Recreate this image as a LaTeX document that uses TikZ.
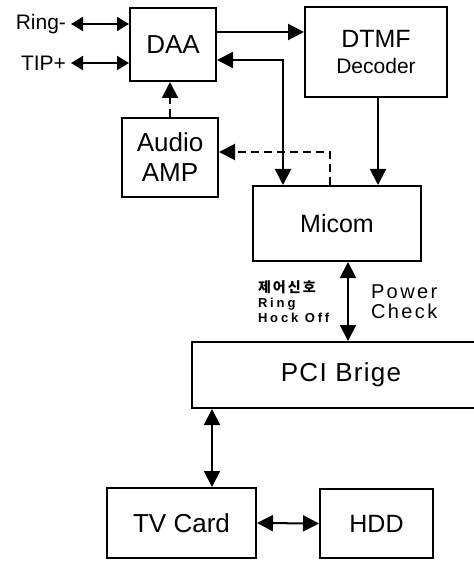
\documentclass[tikz,border=0pt]{standalone}
\usepackage{fontspec}
\setmainfont{Liberation Sans}
\newfontfamily\spacedfont[LetterSpace=12]{Liberation Sans}
\newfontfamily\pcifont[LetterSpace=5]{Liberation Sans}
\newfontfamily\tinyfont[LetterSpace=22]{Liberation Sans}
\newfontfamily\korfont[LetterSpace=15]{Noto Sans CJK KR}
\usetikzlibrary{arrows.meta}

\begin{document}
\begin{tikzpicture}[x=0.5pt, y=-0.5pt, line width=1pt, >={Triangle[length=8pt, width=8pt]},
    blk/.style={draw, inner sep=0pt, align=center}]
    \useasboundingbox (0,0) rectangle (474,561);
    \node (daa) at (173,44.5) [blk, minimum width=43pt, minimum height=36.5pt, font=\fontsize{13}{15}\selectfont] {DAA};
    \node (dtmf) at (376,52) [blk, minimum width=71pt, minimum height=45pt] {\fontsize{12.5}{14}\selectfont DTMF\\[1pt]\fontsize{10.5}{12}\selectfont Decoder};
    \node (audio) at (170,157.5) [blk, minimum width=48pt, minimum height=39.5pt, font=\fontsize{13}{15}\selectfont] {Audio\\AMP};
    \node (micom) at (337,223.5) [blk, minimum width=84pt, minimum height=37.5pt, font=\fontsize{12.5}{15}\selectfont] {Micom};
    \node (pci) at (341,375) [blk, minimum width=149pt, minimum height=33pt, font=\fontsize{13}{15}\pcifont] {PCI Brige};
    \node (tv) at (181.5,523) [blk, minimum width=74.5pt, minimum height=35pt, font=\fontsize{13}{15}\selectfont] {TV Card};
    \node (hdd) at (376.5,523.5) [blk, minimum width=56.5pt, minimum height=34.5pt, font=\fontsize{12.5}{15}\selectfont] {HDD};
    \node (ring) at (71,24) [anchor=east, inner sep=2pt, font=\fontsize{10.5}{12}\selectfont] {Ring-};
    \node (tip) at (71,63) [anchor=east, inner sep=2pt, font=\fontsize{10.5}{12}\selectfont] {TIP+};
    \node (ctrl) at (255,287) [anchor=west, inner sep=1pt, font=\fontsize{7}{8}\korfont\bfseries] {제어신호};
    \node (rng) at (255,304) [anchor=west, inner sep=1pt, font=\fontsize{6.5}{7}\tinyfont\bfseries] {Ring};
    \node (hock) at (255,318) [anchor=west, inner sep=1pt, font=\fontsize{6.5}{7}\tinyfont\bfseries] {Hock Off};
    \node (power) at (368,302) [anchor=west, align=left, inner sep=1pt, font=\fontsize{10}{10}\spacedfont] {Power\\Check};
    \draw[<->, >={Triangle[length=6pt, width=7pt]}] (ring.east) -- (ring.east -| daa.west);
    \draw[<->, >={Triangle[length=6pt, width=7pt]}] (tip.east) -- (tip.east -| daa.west);
    \draw[->] (daa.east |- 0,32) -- (dtmf.west |- 0,32);
    \draw[<->] (daa.east |- 0,60) -| (micom.north -| 283,0);
    \draw[->] (dtmf.south -| 378,0) -- (micom.north -| 378,0);
    \draw[->, dash pattern=on 4pt off 2.5pt] (micom.north -| 330,0) |- (audio.east |- 0,152);
    \draw[->, dash pattern=on 4pt off 2.5pt] (audio.north) -- (audio.north |- daa.south);
    \draw[<->] (micom.south -| 348,0) -- (pci.north -| 348,0);
    \draw[<->] (pci.south -| 212,0) -- (tv.north -| 212,0);
    \draw[<->] (tv.east) -- (hdd.west);
\end{tikzpicture}
\end{document}
